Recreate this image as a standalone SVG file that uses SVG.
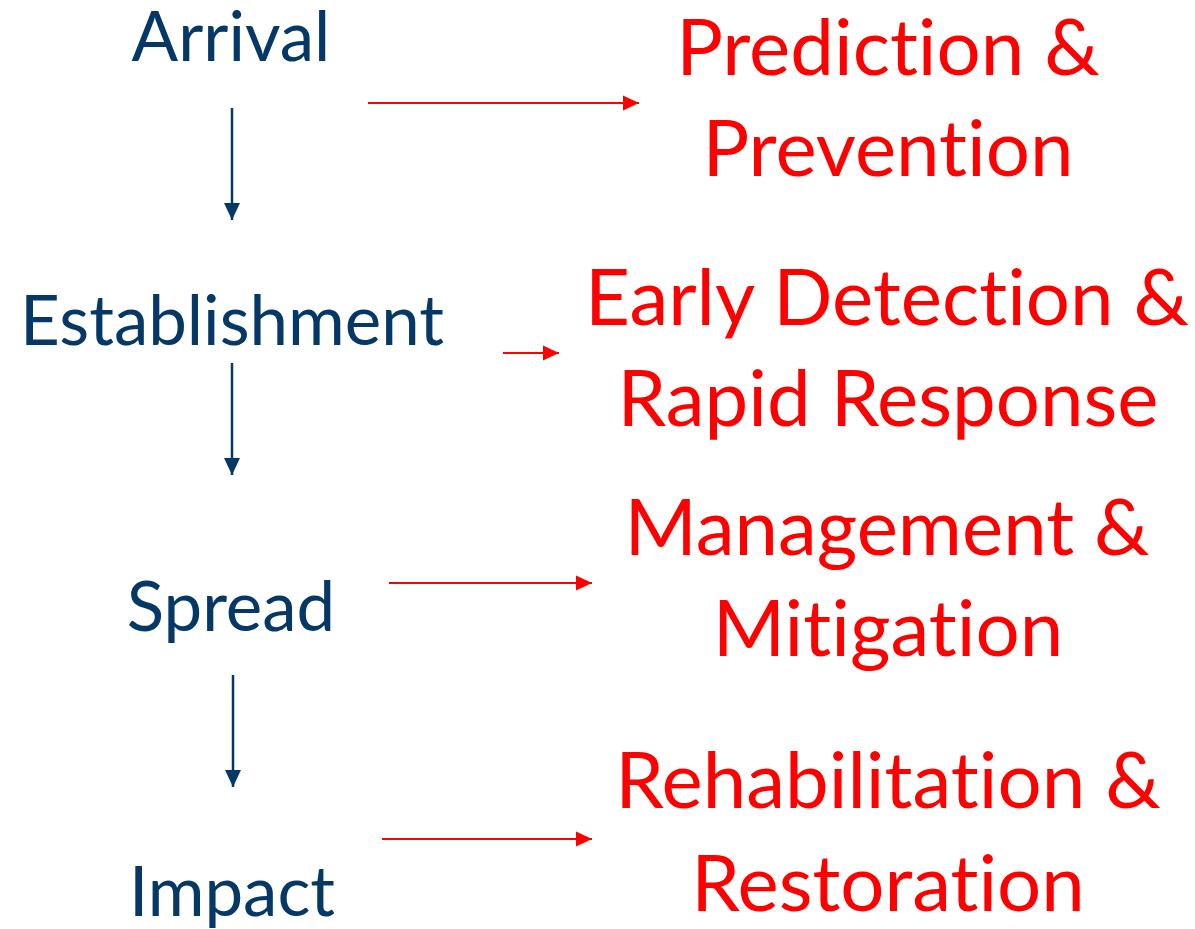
<svg xmlns="http://www.w3.org/2000/svg" width="1195" height="929" viewBox="0 0 1195 929">
<style>
text{font-variant-ligatures:none;font-feature-settings:"liga" 0}
.stage{font-family:Lato,"Liberation Sans",sans-serif;font-size:69px;fill:#053866;text-anchor:middle}
.action{font-family:Lato,"Liberation Sans",sans-serif;font-size:78px;fill:#FF0000;text-anchor:middle}
.down{stroke:#053866;stroke-width:2.5;fill:none}
.right{stroke:#FF0000;stroke-width:2;fill:none}
</style>
<defs>
<marker id="hb" markerUnits="userSpaceOnUse" markerWidth="18" markerHeight="18" refX="17" refY="8" orient="auto" viewBox="0 0 18 16"><path d="M0,0 L17,8 L0,16 Z" fill="#053866"/></marker>
<marker id="hr" markerUnits="userSpaceOnUse" markerWidth="17" markerHeight="16" refX="16" refY="7.5" orient="auto" viewBox="0 0 17 15"><path d="M0,0 L16,7.5 L0,15 Z" fill="#FF0000"/></marker>
</defs>
<g id="arrival"><text class="stage" x="231" y="61">Arrival</text></g>
<g id="establishment"><text class="stage" x="232" y="345">Establishment</text></g>
<g id="spread"><text class="stage" x="231" y="631">Spread</text></g>
<g id="impact"><text class="stage" x="232" y="916">Impact</text></g>
<g id="prediction"><text class="action" x="888" y="75">Prediction &amp;</text><text class="action" x="888" y="176">Prevention</text></g>
<g id="detection"><text class="action" x="887" y="325">Early Detection &amp;</text><text class="action" x="888" y="426">Rapid Response</text></g>
<g id="management"><text class="action" x="887" y="555">Management &amp;</text><text class="action" x="888" y="656">Mitigation</text></g>
<g id="rehabilitation"><text class="action" x="888" y="808">Rehabilitation &amp;</text><text class="action" x="888" y="911">Restoration</text></g>
<g id="connectors">
<line class="down" x1="232" y1="108" x2="232" y2="220" marker-end="url(#hb)"/>
<line class="down" x1="232" y1="363" x2="232" y2="475" marker-end="url(#hb)"/>
<line class="down" x1="233" y1="675" x2="233" y2="787" marker-end="url(#hb)"/>
<line class="right" x1="368" y1="103" x2="639" y2="103" marker-end="url(#hr)"/>
<line class="right" x1="503" y1="353" x2="559" y2="353" marker-end="url(#hr)"/>
<line class="right" x1="389" y1="583" x2="592" y2="583" marker-end="url(#hr)"/>
<line class="right" x1="382" y1="839" x2="592" y2="839" marker-end="url(#hr)"/>
</g>
</svg>
